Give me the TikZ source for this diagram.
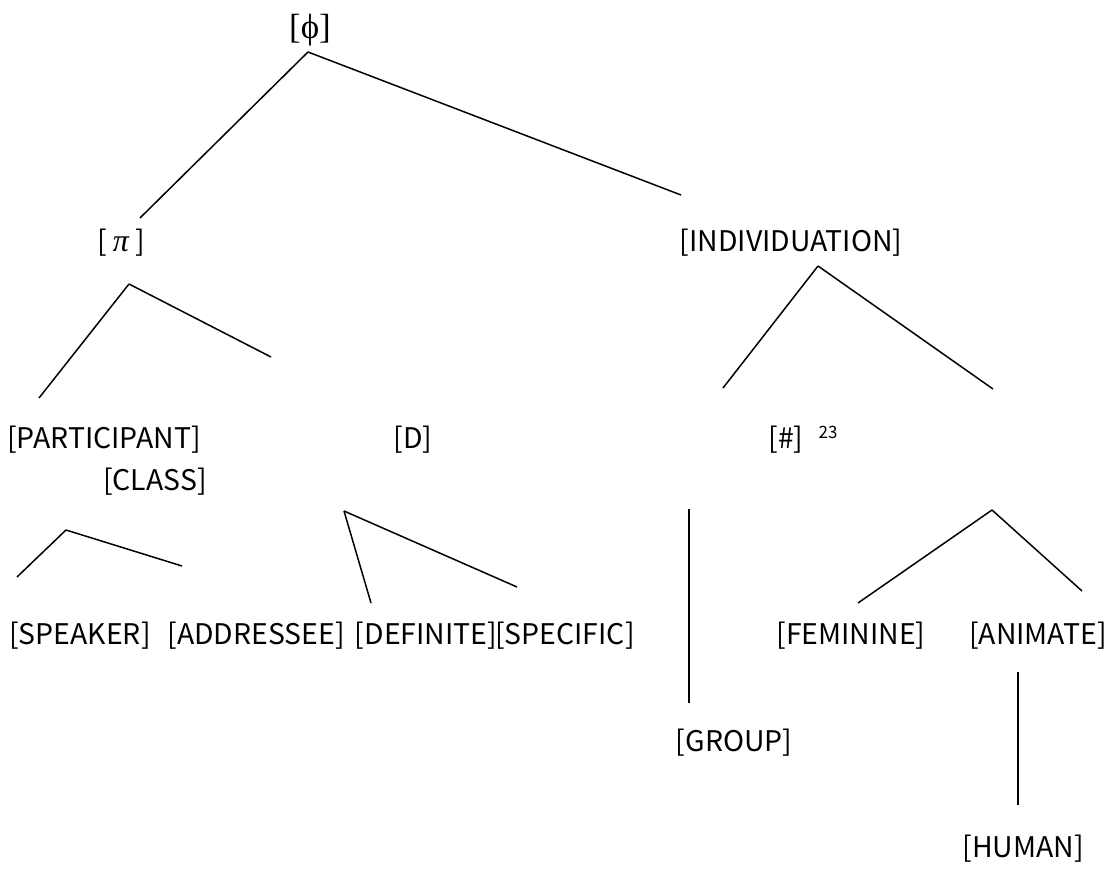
\documentclass[tikz,border=0pt]{standalone}
\usepackage{fontspec}
\setmainfont{Noto Sans CJK JP}
\newfontfamily\serifgr{Liberation Serif}
\usepackage{tikz}
\usetikzlibrary{positioning}

\tikzset{
  feat/.style={inner sep=0pt, font=\fontsize{14.2}{16}\selectfont},
  br/.style={line width=0.75pt}
}

\begin{document}
\begin{tikzpicture}[x=0.5pt,y=-0.5pt]
\useasboundingbox (0,0) rectangle (1112,871);
\node[feat] (phi) at (310,30) {\serifgr\fontsize{17.5}{19}\selectfont [ϕ]};
\node[feat] (pi) at (121,243) {[ {\serifgr\itshape\fontsize{16}{18}\selectfont π} ]};
\node[feat] (ind) at (791,243) {[INDIVIDUATION]};
\node[feat] (part) at (104,440) {[PARTICIPANT]};
\node[feat] (class) at (155,482) {[CLASS]};
\node[feat] (d) at (413,440) {[D]};
\node[feat] (num) at (786,440) {[\#]};
\node[feat, font=\fontsize{8.5}{10}\selectfont] (fn) at (828,432) {23};
\node[feat] (spk) at (80,636) {[SPEAKER]};
\node[feat] (adr) at (256,636) {[ADDRESSEE]};
\node[feat] (def) at (426,636) {[DEFINITE]};
\node[feat] (spc) at (565,636) {[SPECIFIC]};
\node[feat] (fem) at (851,636) {[FEMININE]};
\node[feat] (anim) at (1038,636) {[ANIMATE]};
\node[feat] (grp) at (734,743) {[GROUP]};
\node[feat] (hum) at (1023,849) {[HUMAN]};

% line ends
\coordinate (phi0) at (308,52);
\coordinate (phiL) at (140,218);
\coordinate (phiR) at (681,195);
\coordinate (pi0) at (129,284);
\coordinate (piL) at (39,398);
\coordinate (piR) at (271,357);
\coordinate (ind0) at (818,266);
\coordinate (indL) at (723,388);
\coordinate (indR) at (993,389);
\coordinate (part0) at (66,530);
\coordinate (partL) at (17,577);
\coordinate (partR) at (182,566);
\coordinate (d0) at (344,511);
\coordinate (dL) at (371,603);
\coordinate (dR) at (517,587);
\coordinate (num0) at (689,509);
\coordinate (num1) at (689,703);
\coordinate (cl0) at (992,510);
\coordinate (clL) at (858,603);
\coordinate (clR) at (1082,591);
\coordinate (anim0) at (1018,672);
\coordinate (anim1) at (1018,805);

\path [br] (phi0) edge (phiL)
           (phi0) edge (phiR)
           (pi0) edge (piL)
           (pi0) edge (piR)
           (ind0) edge (indL)
           (ind0) edge (indR)
           (part0) edge (partL)
           (part0) edge (partR)
           (d0) edge (dL)
           (d0) edge (dR)
           (num0) edge (num1)
           (cl0) edge (clL)
           (cl0) edge (clR)
           (anim0) edge (anim1);
\end{tikzpicture}
\end{document}
